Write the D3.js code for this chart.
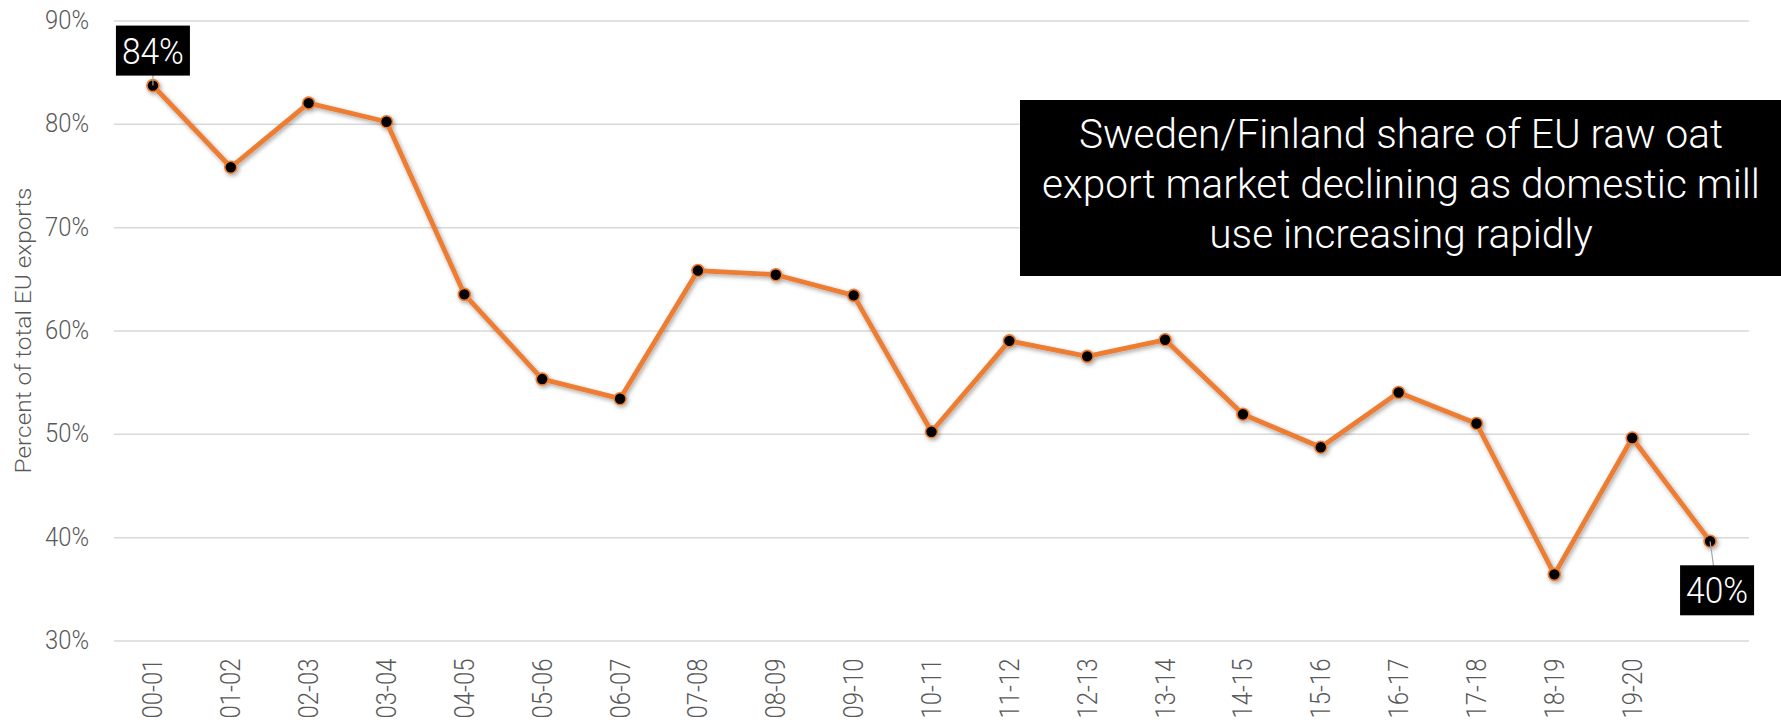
<!DOCTYPE html>
<html>
<head>
<meta charset="utf-8">
<script src="https://cdn.jsdelivr.net/npm/d3@7"></script>
<style>
  html, body { margin: 0; padding: 0; background: #fff; }
  svg { display: block; }
  text { font-family: "Roboto", "DejaVu Sans Condensed", sans-serif; font-weight: 300; }
</style>
</head>
<body>
<svg id="chart" width="1781" height="722"></svg>
<script>
// marketing years (the last one has no tick label in the source chart)
const seasons = ['00-01', '01-02', '02-03', '03-04', '04-05', '05-06', '06-07', '07-08', '08-09', '09-10',
  '10-11', '11-12', '12-13', '13-14', '14-15', '15-16', '16-17', '17-18', '18-19', '19-20', '20-21'];
const tickLabels = ['00-01', '01-02', '02-03', '03-04', '04-05', '05-06', '06-07', '07-08', '08-09', '09-10',
  '10-11', '11-12', '12-13', '13-14', '14-15', '15-16', '16-17', '17-18', '18-19', '19-20', ''];

// Sweden/Finland share of total EU raw oat exports (%)
const share = [83.7, 75.8, 82.0, 80.2, 63.5, 55.3, 53.4, 65.8, 65.4, 63.4,
  50.2, 59.0, 57.5, 59.1, 51.9, 48.7, 54.0, 51.0, 36.4, 49.6, 39.6];

const yTicks = [30, 40, 50, 60, 70, 80, 90];
const yTitle = 'Percent of total EU exports';
const titleLines = ['Sweden/Finland share of EU raw oat', 'export market declining as domestic mill', 'use increasing rapidly'];

const margin = { top: 20.5, right: 32, bottom: 81.5, left: 114 };
const width = 1781, height = 722;

const svg = d3.select('#chart');

const x = d3.scaleBand()
  .domain(seasons)
  .range([margin.left, width - margin.right]);

const y = d3.scaleLinear()
  .domain([30, 90])
  .range([height - margin.bottom, margin.top]);

const cx = (d) => x(d) + x.bandwidth() / 2;

// scale a text horizontally so it spans a given width (the source font is a condensed one)
function fitWidth(sel, w, allowGrow) {
  sel.each(function () {
    const natural = this.getComputedTextLength();
    let k = w / natural;
    if (!allowGrow) k = Math.min(1, k);
    const t = d3.select(this);
    t.attr('transform', (t.attr('transform') || '') + ` scale(${k},1)`);
  });
}

// drop shadow for the series
const defs = svg.append('defs');
defs.append('filter')
  .attr('id', 'shadow')
  .attr('x', '-10%').attr('y', '-10%')
  .attr('width', '120%').attr('height', '120%')
  .append('feDropShadow')
  .attr('dx', 1.5).attr('dy', 2)
  .attr('stdDeviation', 2)
  .attr('flood-color', '#000')
  .attr('flood-opacity', 0.35);

// gridlines + y labels
const yAxis = svg.append('g')
  .attr('transform', `translate(${margin.left},0)`)
  .call(d3.axisLeft(y)
    .tickValues(yTicks)
    .tickSize(-(width - margin.left - margin.right))
    .tickPadding(25)
    .tickFormat((d) => d + '%'));
yAxis.select('.domain').remove();
yAxis.selectAll('.tick line').attr('stroke', '#d9d9d9').attr('stroke-width', 1.5);
yAxis.selectAll('.tick text')
  .attr('fill', '#595959')
  .style('font-size', '25px')
  .each(function () {
    // keep the right edge in place while squeezing
    const t = d3.select(this);
    const xr = +t.attr('x');
    t.attr('x', 0).attr('transform', `translate(${xr},0)`);
  });
fitWidth(yAxis.selectAll('.tick text'), 44);

// x labels
const xAxis = svg.append('g')
  .attr('transform', `translate(0,${height - margin.bottom})`)
  .call(d3.axisBottom(x).tickSize(0).tickFormat((d, i) => tickLabels[i]));
xAxis.select('.domain').remove();
xAxis.selectAll('.tick text')
  .attr('fill', '#595959')
  .style('font-size', '27px')
  .attr('text-anchor', 'end')
  .attr('dy', '0.35em')
  .attr('transform', 'translate(0,18) rotate(-90)')
  .attr('x', 0)
  .attr('y', 0);
fitWidth(xAxis.selectAll('.tick text'), 60);

// y-axis title
const yt = svg.append('text')
  .attr('transform', `translate(31,${(margin.top + height - margin.bottom) / 2}) rotate(-90)`)
  .attr('text-anchor', 'middle')
  .attr('fill', '#595959')
  .style('font-size', '22px')
  .text(yTitle);
fitWidth(yt, 286, true);

// series
const series = svg.append('g').attr('filter', 'url(#shadow)');
const line = d3.line()
  .x((d, i) => cx(seasons[i]))
  .y((d) => y(d));

series.append('path')
  .datum(share)
  .attr('fill', 'none')
  .attr('stroke', '#ed7d31')
  .attr('stroke-width', 4.8)
  .attr('stroke-linejoin', 'round')
  .attr('d', line);

series.selectAll('circle')
  .data(share)
  .enter()
  .append('circle')
  .attr('cx', (d, i) => cx(seasons[i]))
  .attr('cy', (d) => y(d))
  .attr('r', 6)
  .attr('fill', '#000')
  .attr('stroke', '#ed7d31')
  .attr('stroke-width', 1.6);

// data labels on first and last point
const callouts = [
  { i: 0, dx: 0, dy: -35 },
  { i: share.length - 1, dx: 7, dy: 49 },
];
callouts.forEach(({ i, dx, dy }) => {
  const px = cx(seasons[i]);
  const py = y(share[i]);
  const bx = px + dx;
  const by = py + dy;
  const g = svg.append('g');
  g.append('line')
    .attr('x1', px).attr('y1', py)
    .attr('x2', bx).attr('y2', by)
    .attr('stroke', '#a6a6a6')
    .attr('stroke-width', 1.2);
  g.append('rect')
    .attr('x', bx - 37).attr('y', by - 25)
    .attr('width', 74).attr('height', 50)
    .attr('fill', '#000');
  const t = g.append('text')
    .attr('transform', `translate(${bx},${by})`)
    .attr('dy', '0.36em')
    .attr('text-anchor', 'middle')
    .attr('fill', '#fff')
    .style('font-size', '36px')
    .text(Math.round(share[i]) + '%');
  fitWidth(t, 62, true);
});

// title box
const tb = svg.append('g');
tb.append('rect')
  .attr('x', 1020).attr('y', 100)
  .attr('width', width - 1020).attr('height', 176)
  .attr('fill', '#000');
const tt = tb.selectAll('text')
  .data(titleLines)
  .enter()
  .append('text')
  .attr('transform', (d, i) => `translate(1401,${148 + i * 50})`)
  .attr('text-anchor', 'middle')
  .attr('fill', '#fff')
  .style('font-size', '41px')
  .text((d) => d);
// one common horizontal scale, set by the longest line
const longest = d3.max(tt.nodes(), (n) => n.getComputedTextLength());
const kTitle = 718 / longest;
tt.attr('transform', (d, i) => `translate(1401,${148 + i * 50}) scale(${kTitle},1)`);
</script>
</body>
</html>
